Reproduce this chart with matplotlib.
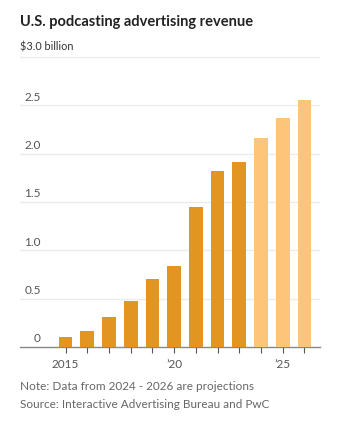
import matplotlib
matplotlib.use("Agg")
import matplotlib.pyplot as plt

years = [2015, 2016, 2017, 2018, 2019, 2020, 2021, 2022, 2023, 2024, 2025, 2026]
revenue = [0.10, 0.165, 0.31, 0.475, 0.70, 0.84, 1.45, 1.82, 1.91, 2.16, 2.37, 2.55]
projected_from = 2024
ytick_vals = [0, 0.5, 1.0, 1.5, 2.0, 2.5, 3.0]
ytick_labels = ["0", "0.5", "1.0", "1.5", "2.0", "2.5", "$3.0 billion"]
xtick_vals = [2015, 2020, 2025]
xtick_labels = ["2015", "\u201920", "\u201925"]

plt.rcParams["font.family"] = ["Lato", "DejaVu Sans"]

W, H = 346, 429
fig = plt.figure(figsize=(W / 100, H / 100), dpi=100)
ax = fig.add_axes([20 / W, 1 - 347 / H, 300 / W, 292 / H])

colors = ["#FDC57A" if y >= projected_from else "#E39522" for y in years]
ax.bar(years, revenue, width=0.63, color=colors, zorder=3)

ax.set_xlim(2012.9, 2026.72)
ax.set_ylim(0, 3.02)

# horizontal gridlines with labels sitting just above them
for v, lab in zip(ytick_vals, ytick_labels):
    if v > 0:
        ax.axhline(v, color="#ebebeb", lw=1.0, zorder=1)
    if lab.startswith("$"):
        ax.annotate(lab, xy=(0, v), xycoords=ax.get_yaxis_transform(),
                    xytext=(0, 3), textcoords="offset points",
                    ha="left", va="bottom", fontsize=7.8, color="#333333")
    else:
        ax.annotate(lab, xy=(21 / 300, v), xycoords=ax.get_yaxis_transform(),
                    xytext=(0, 2), textcoords="offset points",
                    ha="right", va="bottom", fontsize=8.5, color="#555555")
ax.set_yticks([])

for s in ["top", "right", "left"]:
    ax.spines[s].set_visible(False)
ax.spines["bottom"].set_color("#888888")
ax.spines["bottom"].set_linewidth(1.0)

ax.set_xticks(xtick_vals)
ax.set_xticklabels(xtick_labels, fontsize=8.5, color="#555555")
ax.set_xticks(years, minor=True)
ax.tick_params(axis="x", which="both", length=4, width=0.8, color="#555555",
               pad=5)

fig.text(20 / W, 1 - 22 / H, "U.S. podcasting advertising revenue",
         fontsize=10.5, fontweight="bold", color="#222222",
         ha="left", va="center")
fig.text(20 / W, 1 - 387 / H, "Note: Data from 2024 - 2026 are projections",
         fontsize=8.5, color="#666666", ha="left", va="center")
fig.text(20 / W, 1 - 405 / H, "Source: Interactive Advertising Bureau and PwC",
         fontsize=8.5, color="#666666", ha="left", va="center")

fig.savefig("out.png", dpi=100)
